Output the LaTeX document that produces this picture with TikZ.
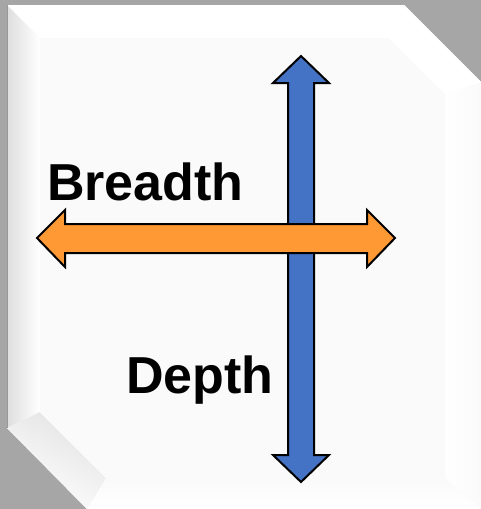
\documentclass[tikz,border=0pt]{standalone}
\usepackage{fontspec}
\setmainfont{Liberation Sans}
\definecolor{bggray}{HTML}{A6A6A6}
\definecolor{faceg}{HTML}{FAFAFA}
\definecolor{arrblue}{HTML}{4472C4}
\definecolor{arrorange}{HTML}{FF9933}
\begin{document}
\begin{tikzpicture}[x=1pt,y=-1pt,
  arrowshape/.style={draw=black,line width=2pt,line join=miter},
  lbl/.style={inner sep=0pt,anchor=base west,font=\fontsize{52}{62}\selectfont\bfseries}]
\useasboundingbox (0,0) rectangle (481,509);
\fill[bggray] (0,0) rectangle (481,509);
% outer plate
\fill[white] (7,5) -- (404,5) -- (481,82) -- (481,509) -- (87,509) -- (7,428) -- cycle;
% bevel faces
\fill[white] (7,5) -- (404,5) -- (388,38) -- (40,38) -- cycle;
\fill[white] (404,5) -- (481,82) -- (445,95) -- (388,38) -- cycle;
\shade[left color=white,right color=faceg] (481,82) -- (481,509) -- (445,478) -- (445,95) -- cycle;
\shade[top color=faceg,bottom color=white] (87,509) -- (481,509) -- (445,478) -- (106,478) -- cycle;
\shade[left color=black!13,right color=white] (7,5) -- (40,38) -- (40,412) -- (7,428) -- cycle;
\shade[left color=black!11,right color=white,shading angle=-30] (7,428) -- (40,412) -- (106,478) -- (87,509) -- cycle;
\draw[black!40,line width=1.2pt] (7.6,5) -- (7.6,428);
% inner face
\fill[faceg] (40,38) -- (388,38) -- (445,95) -- (445,478) -- (106,478) -- (40,412) -- cycle;
% blue vertical double arrow
\filldraw[arrowshape,fill=arrblue] (301,56) -- (329,83) -- (314,83) -- (314,455) -- (329,455) -- (301,482)
  -- (273,455) -- (288,455) -- (288,83) -- (273,83) -- cycle;
% orange horizontal double arrow
\filldraw[arrowshape,fill=arrorange] (37,238) -- (65,210) -- (65,224) -- (367,224) -- (367,210) -- (395,238)
  -- (367,267) -- (367,253) -- (65,253) -- (65,267) -- cycle;
% labels
\node[lbl] (breadth) at (47,200) {Breadth};
\node[lbl] (depth) at (126,393) {Depth};
\end{tikzpicture}
\end{document}
